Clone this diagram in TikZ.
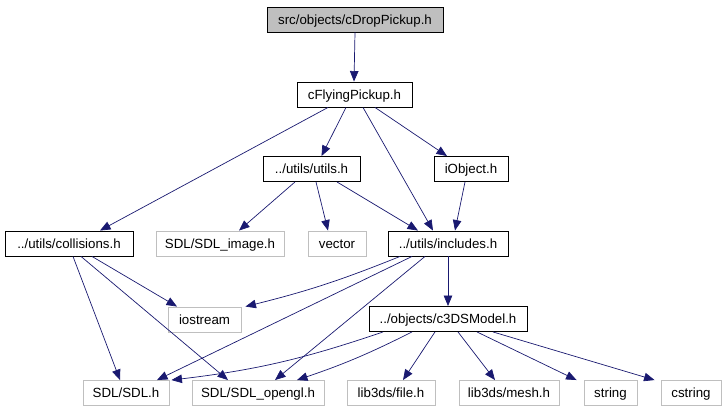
\documentclass[tikz,border=0pt]{standalone}
\usepackage{fontspec}
\setmainfont{Liberation Sans}
\usepackage{xcolor}
\usepackage{tikz}
\usetikzlibrary{arrows.meta}
\definecolor{edgeblue}{HTML}{191970}
\definecolor{sysgray}{HTML}{BFBFBF}

\begin{document}
\begin{tikzpicture}[x=1pt, y=-1pt,
    >={Triangle[length=10.5pt, width=8.5pt]},
    hdrbox/.style={draw=black, line width=0.9pt, inner sep=0pt, minimum height=25pt,
      font=\fontsize{13.3}{15}\selectfont, text height=9.6pt, text depth=0pt},
    syshdr/.style={hdrbox, draw=sysgray},
    roothdr/.style={hdrbox, fill=sysgray},
    dep/.style={->, edgeblue, line width=0.7pt}]
  \useasboundingbox (0,0) rectangle (725,411);

  % header files of the project
  \node[roothdr, minimum width=176pt] (root) at (355,19.5) {src/objects/cDropPickup.h};
  \node[hdrbox, minimum width=115pt] (fly) at (354.5,94.5) {cFlyingPickup.h};
  \node[hdrbox, minimum width=97pt] (utils) at (311.5,169) {../utils/utils.h};
  \node[hdrbox, minimum width=74pt] (iobj) at (471,169) {iObject.h};
  \node[hdrbox, minimum width=128pt] (coll) at (69,243.5) {../utils/collisions.h};
  \node[hdrbox, minimum width=120pt] (incl) at (448,243.5) {../utils/includes.h};
  \node[hdrbox, minimum width=158pt] (model) at (448,319) {../objects/c3DSModel.h};

  % system and library headers
  \node[syshdr, minimum width=128pt] (sdlimg) at (220,243.5) {SDL/SDL\_image.h};
  \node[syshdr, minimum width=58pt] (vec) at (337,243.5) {vector};
  \node[syshdr, minimum width=73pt] (iostr) at (204.5,319.5) {iostream};
  \node[syshdr, minimum width=86pt] (sdl) at (126,393) {SDL/SDL.h};
  \node[syshdr, minimum width=132pt] (gl) at (258,393) {SDL/SDL\_opengl.h};
  \node[syshdr, minimum width=88pt] (lfile) at (391,393) {lib3ds/file.h};
  \node[syshdr, minimum width=100pt] (mesh) at (509,393) {lib3ds/mesh.h};
  \node[syshdr, minimum width=53pt] (str) at (610.5,393) {string};
  \node[syshdr, minimum width=60pt] (cstr) at (691,393) {cstring};

  % include edges
  \draw[dep] (root.south) -- ([xshift=-0.5pt]fly.north);
  \draw[dep] ([xshift=-26.5pt]fly.south) -- ([xshift=31pt]coll.north);
  \draw[dep] ([xshift=-8.5pt]fly.south) -- ([xshift=10pt]utils.north);
  \draw[dep] ([xshift=8.5pt]fly.south) -- ([xshift=-15pt]incl.north);
  \draw[dep] ([xshift=20.5pt]fly.south) -- ([xshift=-24pt]iobj.north);
  \draw[dep] ([xshift=-16.5pt]utils.south) -- ([xshift=19pt]sdlimg.north);
  \draw[dep] ([xshift=4.5pt]utils.south) -- ([xshift=-9pt]vec.north);
  \draw[dep] ([xshift=25.5pt]utils.south) -- ([xshift=-30pt]incl.north);
  \draw[dep] ([xshift=-6pt]iobj.south) -- ([xshift=7pt]incl.north);
  \draw[dep] ([xshift=23pt]coll.south) -- ([xshift=-27.5pt]iostr.north);
  \draw[dep] ([xshift=4pt]coll.south) -- ([xshift=-6pt]sdl.north);
  \draw[dep] ([xshift=12pt]coll.south) -- ([xshift=-30pt]gl.north);
  \draw[dep] ([xshift=-48pt]incl.south) to[bend left=4] ([xshift=4pt]iostr.north east);
  \draw[dep] ([xshift=-36pt]incl.south) -- ([xshift=31pt]sdl.north);
  \draw[dep] ([xshift=-23pt]incl.south) -- ([xshift=17pt]gl.north);
  \draw[dep] (incl.south) -- (model.north);
  \draw[dep] ([xshift=-65pt]model.south) to[bend left=6] ([xshift=2pt]sdl.north east);
  \draw[dep] ([xshift=-36pt]model.south) to[bend left=4] ([xshift=39pt]gl.north);
  \draw[dep] ([xshift=-13pt]model.south) -- ([xshift=12pt]lfile.north);
  \draw[dep] ([xshift=10pt]model.south) -- ([xshift=-14pt]mesh.north);
  \draw[dep] ([xshift=29pt]model.south) -- ([xshift=-7pt]str.north west);
  \draw[dep] ([xshift=45pt]model.south) -- ([xshift=-6pt]cstr.north west);
\end{tikzpicture}
\end{document}
